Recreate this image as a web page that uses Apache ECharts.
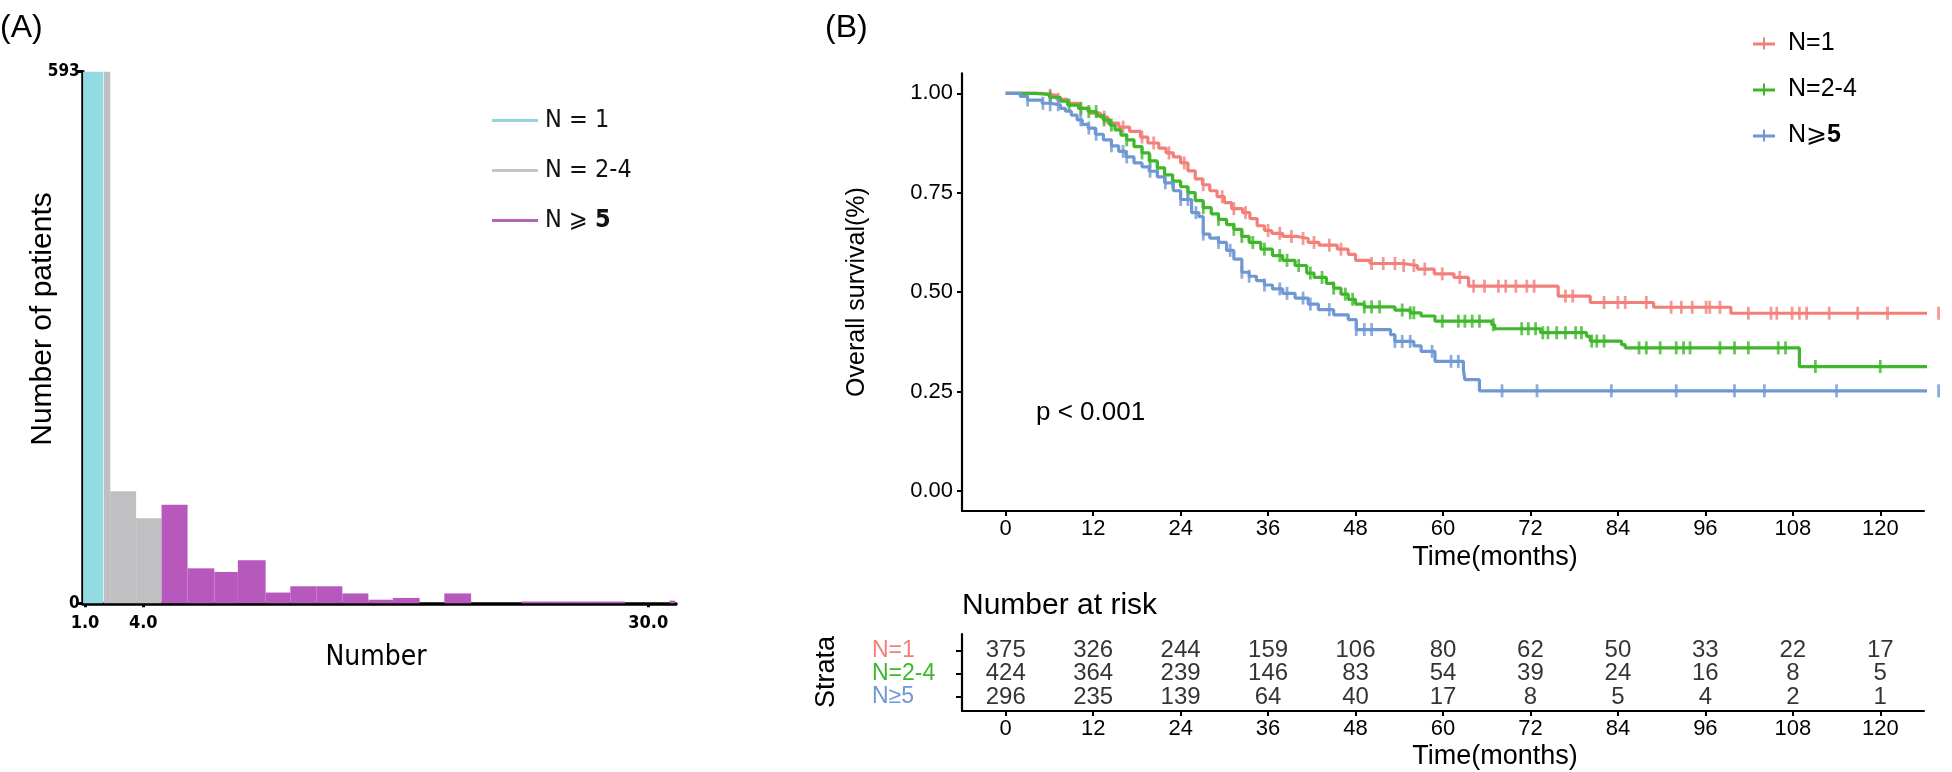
<!DOCTYPE html>
<html><head><meta charset="utf-8">
<script src="https://cdn.jsdelivr.net/npm/echarts@6/dist/echarts.min.js"></script>
<style>html,body{margin:0;padding:0;background:#fff}#c{width:1952px;height:772px}</style>
</head><body><div id="c"></div>
<script>
// ---------- Panel A: histogram of number ----------
const histGroups = ['N = 1', 'N = 2-4', 'N ⩾ 5'];
const histColors = ['#92DBE2', '#C0BFC1', '#B758BC'];
const histLegendColors = ['#93D5DF', '#C6C6C6', '#B565B9'];
const binStart = [0.9, 1.97, 2.30, 3.63, 4.94, 6.28, 7.66, 8.87, 10.30, 11.57, 12.91, 14.25, 15.59, 16.85, 19.50, 23.47, 24.80, 26.14, 27.47, 31.10];
const binEnd   = [1.94, 2.30, 3.63, 4.94, 6.28, 7.66, 8.87, 10.30, 11.57, 12.91, 14.25, 15.59, 16.85, 18.23, 20.88, 24.80, 26.14, 27.47, 28.81, 31.38];
const binCount = [593, 593, 125, 95, 110, 39, 35, 48, 12, 19, 19, 11, 4, 6, 11, 2, 2, 2, 2, 3];
const binGroup = [0, 1, 1, 1, 2, 2, 2, 2, 2, 2, 2, 2, 2, 2, 2, 2, 2, 2, 2, 2];
const histXTicks = [1, 4, 30];
const histYTicks = [0, 593];

// ---------- Panel B: Kaplan-Meier ----------
const strata = ['N=1', 'N=2-4', 'N⩾5'];
const strataTable = ['N=1', 'N=2-4', 'N≥5'];
const kmColors = ['#F2807A', '#3EB72B', '#6F98D3'];
const km1 = [[0,1],[5,0.995],[7,0.985],[8.5,0.975],[10,0.962],[11.5,0.95],[13,0.94],[14,0.925],[15.5,0.915],[17,0.904],[18.5,0.89],[19.5,0.875],[21,0.862],[22,0.85],[23,0.84],[24,0.825],[25,0.805],[26,0.785],[27,0.77],[28,0.755],[29,0.74],[30,0.725],[31,0.71],[32.5,0.70],[33.5,0.685],[34.5,0.667],[35.5,0.655],[36.5,0.648],[38,0.64],[40,0.635],[41.5,0.625],[43,0.618],[45.5,0.608],[47,0.595],[48,0.58],[50,0.572],[54.5,0.567],[56.5,0.558],[58.8,0.546],[61.5,0.537],[63.5,0.515],[75.8,0.49],[80.2,0.474],[88.9,0.462],[99.5,0.447],[128.5,0.447]];
const km2 = [[0,1],[4,0.997],[6,0.99],[7.5,0.98],[8.5,0.97],[10,0.962],[11.3,0.954],[12.5,0.943],[13.4,0.933],[14.3,0.92],[15,0.908],[15.8,0.895],[16.6,0.883],[17.6,0.866],[18.7,0.85],[19.7,0.83],[20.8,0.8125],[21.8,0.795],[22.9,0.779],[24,0.765],[25,0.75],[26,0.73],[27.1,0.7125],[28.2,0.697],[29.2,0.683],[30.3,0.67],[31.3,0.658],[32.4,0.64],[33.4,0.625],[35,0.608],[36.6,0.592],[38,0.58],[39.7,0.567],[41.3,0.548],[42.3,0.537],[44,0.522],[45,0.51],[46,0.495],[47,0.482],[48,0.47],[49.2,0.463],[53.4,0.455],[55.5,0.448],[57,0.44],[58.9,0.427],[66.7,0.418],[67.1,0.408],[73.4,0.398],[79.7,0.389],[80.2,0.377],[84.5,0.368],[85,0.36],[108.9,0.313],[128.5,0.313]];
const km3 = [[0,1],[2,0.992],[3,0.983],[5,0.975],[6.1,0.971],[7.5,0.962],[8.2,0.955],[9,0.945],[9.8,0.933],[10.5,0.922],[11.3,0.9125],[12.3,0.897],[13.4,0.883],[14.5,0.868],[15.5,0.854],[16.5,0.84],[17.6,0.825],[18.7,0.815],[19.7,0.804],[20.8,0.79],[21.8,0.775],[23,0.755],[24,0.733],[25.5,0.70],[26.5,0.69],[27.1,0.646],[28,0.636],[29.2,0.625],[30.3,0.605],[31.3,0.583],[32.4,0.55],[33.4,0.54],[34.4,0.529],[35.5,0.518],[36.6,0.508],[38,0.497],[39.7,0.485],[41.5,0.47],[42.9,0.456],[45,0.443],[47,0.431],[48.1,0.406],[52.8,0.393],[53.4,0.376],[56,0.365],[57,0.351],[58.9,0.326],[62.8,0.305],[63,0.28],[65,0.252],[128.5,0.252]];
const censor1 = [6.1,7.2,10.3,13.5,16.1,18.7,20.3,22.4,24.5,27.1,29.7,31.3,32.9,36.0,37.6,39.2,40.8,42.3,44.4,46.0,50.2,51.8,53.4,54.6,56.0,57.5,59.9,62.3,64.2,65.7,67.6,68.6,70.0,71.5,72.5,76.8,77.8,82.1,84.0,85.0,87.9,91.3,92.7,94.2,96.1,96.6,98.0,101.9,105.0,105.8,107.9,108.9,109.9,113.0,116.9,121.0,128.0];
const censor2 = [6.1,8.7,10.3,11.4,12.4,13.5,14.5,16.6,18.7,19.8,20.8,22.9,25.0,27.1,29.2,31.3,32.4,33.9,35.5,37.6,38.6,40.2,41.8,43.4,45.0,46.6,47.6,49.2,50.2,51.3,54.4,55.5,56.0,59.9,62.1,63.0,64.0,65.0,66.9,70.8,71.7,72.7,73.7,74.4,75.6,76.8,78.2,79.0,80.4,81.1,82.1,86.9,87.9,89.8,92.0,93.0,93.9,98.0,100.0,101.9,106.0,107.0,111.1,120.0];
const censor3 = [3.0,5.1,6.1,7.2,10.3,11.4,12.4,14.5,16.1,16.6,19.8,21.9,24.0,25.0,26.1,27.1,29.2,30.8,32.4,33.4,35.5,37.6,38.6,40.8,41.8,44.4,48.1,49.2,50.2,53.4,54.4,55.5,58.5,61.1,62.1,68.1,72.9,83.1,92.0,100.0,104.1,114.0,128.0];
const kmYTicks = [0, 0.25, 0.5, 0.75, 1];
const timeTicks = [0, 12, 24, 36, 48, 60, 72, 84, 96, 108, 120];
const risk1 = [375, 326, 244, 159, 106, 80, 62, 50, 33, 22, 17];
const risk2 = [424, 364, 239, 146, 83, 54, 39, 24, 16, 8, 5];
const risk3 = [296, 235, 139, 64, 40, 17, 8, 5, 4, 2, 1];
const riskRows = [2.6, 1.6, 0.6];

const FONT = '"Liberation Sans", Arial, Helvetica, sans-serif';
const NARROW = '"Liberation Sans Narrow", "Arial Narrow", "DejaVu Sans Condensed", "Liberation Sans", sans-serif';

function survAt(curve, t) {
  let s = curve[0][1];
  for (const p of curve) { if (p[0] <= t) s = p[1]; else break; }
  return s;
}

const series = [];
histGroups.forEach((g, gi) => {
  const data = [];
  binStart.forEach((s, i) => { if (binGroup[i] === gi) data.push([s, binEnd[i], binCount[i]]); });
  series.push({
    type: 'custom', name: g, xAxisIndex: 0, yAxisIndex: 0, color: histLegendColors[gi],
    encode: { x: [0, 1], y: 2 },
    data,
    renderItem: (params, api) => {
      const p0 = api.coord([api.value(0), api.value(2)]);
      const p1 = api.coord([api.value(1), 0]);
      return { type: 'rect', shape: { x: p0[0], y: p0[1], width: p1[0] - p0[0], height: p1[1] - p0[1] },
        style: { fill: histColors[gi] } };
    }
  });
});
const kms = [km1, km2, km3];
const censors = [censor1, censor2, censor3];
const risks = [risk1, risk2, risk3];
kms.forEach((km, i) => {
  series.push({
    type: 'line', name: strata[i], xAxisIndex: 1, yAxisIndex: 1, data: km, step: 'end',
    showSymbol: false, symbol: 'none', clip: false, color: kmColors[i],
    lineStyle: { width: 3.2, color: kmColors[i] }, z: 3 + i
  });
  series.push({
    type: 'scatter', name: strata[i] + ' censor', xAxisIndex: 1, yAxisIndex: 1, clip: false,
    data: censors[i].map(t => [t, survAt(km, t)]), symbol: 'rect', symbolSize: [2.8, 13],
    itemStyle: { color: kmColors[i] }, z: 3 + i
  });
  series.push({
    type: 'scatter', name: 'risk ' + strata[i], xAxisIndex: 2, yAxisIndex: 2, symbolSize: 0,
    data: timeTicks.map((t, j) => [t, riskRows[i], risks[i][j]]),
    label: { show: true, position: 'inside', formatter: p => String(p.value[2]), fontSize: 24, color: '#000', fontFamily: FONT }
  });
});

const rowLabel = {};
riskRows.forEach((r, i) => rowLabel[r.toFixed(1)] = '{s' + i + '|' + strataTable[i] + '}');

const option = {
  animation: false,
  backgroundColor: '#fff',
  textStyle: { fontFamily: FONT },
  grid: [
    { left: 82.7, top: 71.7, width: 593.3, height: 531.6 },
    { left: 962, top: 73.4, width: 962, height: 437.5 },
    { left: 962, top: 634, width: 962, height: 77 }
  ],
  xAxis: [
    { type: 'value', gridIndex: 0, min: 0.88, max: 31.43,
      axisLine: { show: true, onZero: false, lineStyle: { color: '#000', width: 3.5 } },
      axisTick: { show: true, customValues: histXTicks, length: 4, lineStyle: { color: '#000', width: 3 } },
      axisLabel: { customValues: histXTicks, formatter: v => Number(v).toFixed(1), fontSize: 18, fontWeight: 'bold', color: '#000', margin: 11, fontFamily: NARROW },
      splitLine: { show: false } },
    { type: 'value', gridIndex: 1, min: -6, max: 126,
      axisLine: { show: true, onZero: false, lineStyle: { color: '#000', width: 2.2 } },
      axisTick: { show: true, customValues: timeTicks, length: 5, lineStyle: { color: '#000', width: 2 } },
      axisLabel: { customValues: timeTicks, formatter: v => String(v), fontSize: 22, color: '#000', margin: 7 },
      splitLine: { show: false } },
    { type: 'value', gridIndex: 2, min: -6, max: 126,
      axisLine: { show: true, onZero: false, lineStyle: { color: '#000', width: 2.2 } },
      axisTick: { show: true, customValues: timeTicks, length: 5, lineStyle: { color: '#000', width: 2 } },
      axisLabel: { customValues: timeTicks, formatter: v => String(v), fontSize: 22, color: '#000', margin: 7 },
      splitLine: { show: false } }
  ],
  yAxis: [
    { type: 'value', gridIndex: 0, min: 0, max: 593,
      axisLine: { show: true, onZero: false, lineStyle: { color: '#000', width: 3.5 } },
      axisTick: { show: true, customValues: histYTicks, length: 5, lineStyle: { color: '#000', width: 3 } },
      axisLabel: { customValues: histYTicks, formatter: v => String(v), fontSize: 17, fontWeight: 'bold', color: '#000', margin: 3, fontFamily: NARROW },
      splitLine: { show: false } },
    { type: 'value', gridIndex: 1, min: -0.05, max: 1.05,
      axisLine: { show: true, onZero: false, lineStyle: { color: '#000', width: 2.2 } },
      axisTick: { show: true, customValues: kmYTicks, length: 5, lineStyle: { color: '#000', width: 2 } },
      axisLabel: { customValues: kmYTicks, formatter: v => Number(v).toFixed(2), fontSize: 22, color: '#000', margin: 9 },
      splitLine: { show: false } },
    { type: 'value', gridIndex: 2, min: 0, max: 3.3,
      axisLine: { show: true, onZero: false, lineStyle: { color: '#000', width: 2.2 } },
      axisTick: { show: true, customValues: riskRows, length: 6, lineStyle: { color: '#000', width: 2 } },
      axisLabel: { customValues: riskRows, formatter: v => rowLabel[Number(v).toFixed(1)] || '',
        align: 'left', margin: 90, fontSize: 23,
        rich: { s0: { color: kmColors[0], fontSize: 23 }, s1: { color: kmColors[1], fontSize: 23 }, s2: { color: kmColors[2], fontSize: 23 } } },
      splitLine: { show: false } }
  ],
  legend: [
    { data: histGroups, orient: 'vertical', left: 487, top: 103, itemWidth: 46, itemHeight: 3, itemGap: 25,
      icon: 'rect', selectedMode: false,
      formatter: n => n === 'N ⩾ 5' ? 'N ⩾ {b|5}' : n,
      textStyle: { fontSize: 25, lineHeight: 24, color: '#111', fontFamily: NARROW, padding: [0, 0, 0, 2],
        rich: { b: { fontWeight: 'bold', fontSize: 25, lineHeight: 24, fontFamily: NARROW } } } },
    { data: strata, orient: 'vertical', left: 1748, top: 26, itemWidth: 22, itemHeight: 12, itemGap: 21,
      icon: 'path://M0,5h22v3h-22z M10,0h2v12h-2z', selectedMode: false,
      formatter: n => n === 'N⩾5' ? 'N⩾{b|5}' : n,
      textStyle: { fontSize: 25, lineHeight: 25, color: '#000', padding: [0, 0, 0, 8],
        rich: { b: { fontWeight: 'bold', fontSize: 25, lineHeight: 25 } } } }
  ],
  graphic: [
    { type: 'text', x: 0, y: 28, style: { text: '(A)', fontSize: 32, fontFamily: FONT, fill: '#000', align: 'left', verticalAlign: 'middle' } },
    { type: 'text', x: 825, y: 28, style: { text: '(B)', fontSize: 32, fontFamily: FONT, fill: '#000', align: 'left', verticalAlign: 'middle' } },
    { type: 'text', x: 43, y: 319, rotation: Math.PI / 2, style: { text: 'Number of patients', fontSize: 30, fontFamily: FONT, fill: '#000', align: 'center', verticalAlign: 'middle' } },
    { type: 'text', x: 376, y: 658, style: { text: 'Number', fontSize: 28, fontFamily: NARROW, fill: '#000', align: 'center', verticalAlign: 'middle' } },
    { type: 'text', x: 857, y: 292, rotation: Math.PI / 2, style: { text: 'Overall survival(%)', fontSize: 25, fontFamily: FONT, fill: '#000', align: 'center', verticalAlign: 'middle' } },
    { type: 'text', x: 1495, y: 558, style: { text: 'Time(months)', fontSize: 27, fontFamily: FONT, fill: '#000', align: 'center', verticalAlign: 'middle' } },
    { type: 'text', x: 1036, y: 413, style: { text: 'p < 0.001', fontSize: 26, fontFamily: FONT, fill: '#000', align: 'left', verticalAlign: 'middle' } },
    { type: 'text', x: 962, y: 606, style: { text: 'Number at risk', fontSize: 30, fontFamily: FONT, fill: '#000', align: 'left', verticalAlign: 'middle' } },
    { type: 'text', x: 827, y: 672, rotation: Math.PI / 2, style: { text: 'Strata', fontSize: 27, fontFamily: FONT, fill: '#000', align: 'center', verticalAlign: 'middle' } },
    { type: 'text', x: 1495, y: 757, style: { text: 'Time(months)', fontSize: 27, fontFamily: FONT, fill: '#000', align: 'center', verticalAlign: 'middle' } }
  ],
  series
};
const chart = echarts.init(document.getElementById('c'), null, { renderer: 'canvas' });
chart.setOption(option);
</script></body></html>
